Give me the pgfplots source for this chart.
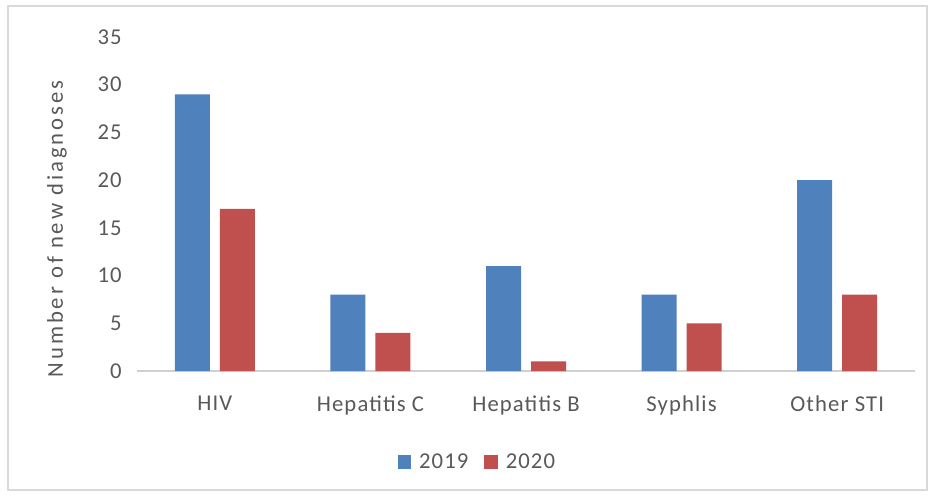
\documentclass[border=0pt]{standalone}
\usepackage{pgfplots}
\pgfplotsset{compat=1.18}
\usepackage{fontspec}
\setmainfont{Carlito}[LetterSpace=5]
\definecolor{xlblue}{HTML}{4F81BD}
\definecolor{xlred}{HTML}{C0504D}
\definecolor{xltext}{HTML}{595959}
\definecolor{xlframe}{HTML}{D9D9D9}
\definecolor{xlaxis}{HTML}{D0D0D0}
\begin{document}
\begin{tikzpicture}[x=0.75pt,y=0.75pt]
  % page and chart frame (coordinates in reference pixels)
  \useasboundingbox[fill=white] (0,0) rectangle (935,497);
  \draw[xlframe, line width=1.2pt] (8,7) rectangle (927,491);
  \begin{axis}[
    at={(102.75pt,94.5pt)}, anchor=south west,
    scale only axis,
    width=583.5pt, height=250.5pt,
    ybar=7.5pt, bar width=26.25pt,
    xmin=-0.5, xmax=4.5,
    ymin=0, ymax=35,
    xtick=data,
    xticklabels={HIV, Hepatitis C, Hepatitis B, Syphlis, Other STI},
    ytick={0,5,...,35},
    axis x line*=bottom, axis y line*=left,
    y axis line style={draw=none},
    x axis line style={xlaxis, line width=1pt, -},
    major tick length=0pt,
    tick label style={font=\fontsize{17}{20}\selectfont, text=xltext},
    xticklabel style={yshift=-15pt},
    yticklabel style={xshift=-8pt},
    /pgf/number format/assume math mode=true,
    legend style={at={(0.438,-0.272)}, anchor=center, draw=none,
      legend columns=-1, font=\fontsize{17}{20}\selectfont, text=xltext,
      /tikz/every odd column/.append style={column sep=4pt},
      /tikz/every even column/.append style={column sep=10pt}},
    legend image code/.code={\fill[#1] (0pt,-5pt) rectangle (10pt,5pt);},
  ]
    \addplot[fill=xlblue, draw=none] coordinates {(0,29) (1,8) (2,11) (3,8) (4,20)};
    \addplot[fill=xlred, draw=none] coordinates {(0,17) (1,4) (2,1) (3,5) (4,8)};
    \legend{2019, 2020}
  \end{axis}
  \node[rotate=90, text=xltext, font=\fontsize{17}{20}\selectfont\addfontfeature{LetterSpace=13}]
    at (57,268) {Number of new diagnoses};
\end{tikzpicture}
\end{document}
